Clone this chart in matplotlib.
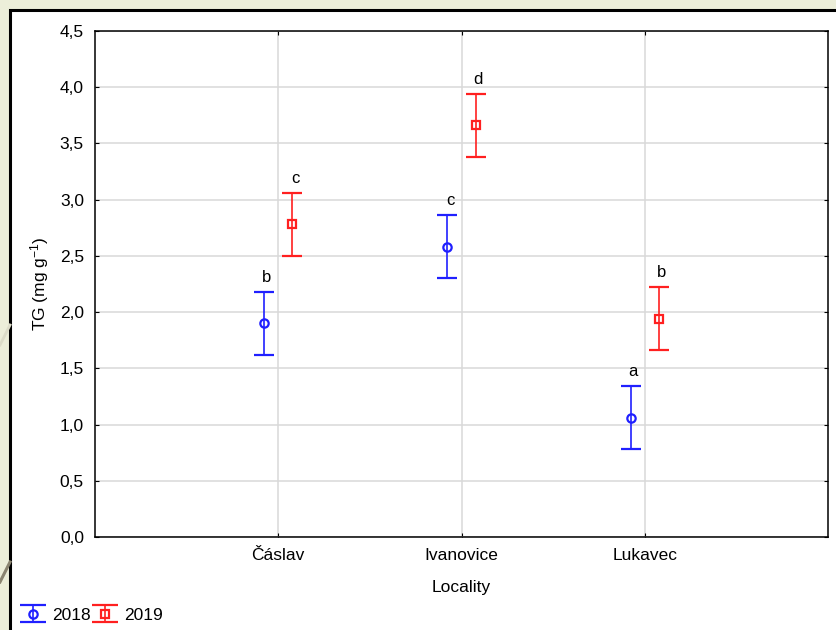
import matplotlib as mpl
mpl.use('agg')

import matplotlib.pyplot as plt
from matplotlib.patches import Rectangle
from matplotlib.lines import Line2D
from matplotlib.legend_handler import HandlerErrorbar
import numpy as np

# data (mean +- error)
localities = ['Čáslav', 'Ivanovice', 'Lukavec']
years = ['2018', '2019']
tg_2018 = [1.90, 2.58, 1.06]
tg_2019 = [2.78, 3.66, 1.94]
err_2018 = [0.28, 0.28, 0.28]
err_2019 = [0.28, 0.28, 0.28]
letters_2018 = ['b', 'c', 'a']
letters_2019 = ['c', 'd', 'b']
y_ticks = [0.0, 0.5, 1.0, 1.5, 2.0, 2.5, 3.0, 3.5, 4.0, 4.5]


def set_style():
    plt.rc('font', family=['Liberation Sans', 'DejaVu Sans'])
    mpl.rcParams['mathtext.fontset'] = 'custom'
    mpl.rcParams['mathtext.rm'] = 'Liberation Sans'
    mpl.rcParams['mathtext.it'] = 'Liberation Sans'
    mpl.rcParams['font.size'] = 12.5
    mpl.rcParams['xtick.direction'] = 'in'
    mpl.rcParams['ytick.direction'] = 'in'
    mpl.rcParams['xtick.top'] = True
    mpl.rcParams['ytick.right'] = True
    mpl.rcParams['xtick.major.size'] = 3
    mpl.rcParams['ytick.major.size'] = 3
    mpl.rcParams['axes.linewidth'] = 1.1


class WideCaps(HandlerErrorbar):
    # legend caps are drawn wider than in the plot
    def create_artists(self, *args, **kwargs):
        arts = super().create_artists(*args, **kwargs)
        for a in arts:
            if isinstance(a, Line2D) and a.get_marker() == '_':
                a.set_markersize(19)
        return arts


set_style()
fig = plt.figure(figsize=(8.36, 6.3), dpi=100, facecolor='#eceed9')

# slide decoration + white panel with black border
fig.add_artist(Line2D([0.0, 0.012], [1 - 582 / 630, 1 - 562 / 630],
                      transform=fig.transFigure, color='#8a8470', lw=2.2))
fig.add_artist(Line2D([0.0, 0.012], [1 - 345 / 630, 1 - 325 / 630],
                      transform=fig.transFigure, color='#dcdcc8', lw=2.0))
fig.add_artist(Rectangle((10 / 836, -0.05), 1.1, 1.05 - 10 / 630,
                         transform=fig.transFigure, facecolor='white',
                         edgecolor='black', lw=2.2))

ax = fig.add_axes([95 / 836, 1 - 537 / 630, 733 / 836, 506 / 630])
ax.set_zorder(2)

x = np.arange(1, len(localities) + 1)
off = 0.077

eb1 = ax.errorbar(x - off, tg_2018, yerr=err_2018, fmt='o', color='#2020ff',
                  mfc='none', mec='#2020ff', ms=6, mew=1.6, capsize=7,
                  elinewidth=1.2, capthick=1.2, label=years[0], zorder=3)
eb2 = ax.errorbar(x + off, tg_2019, yerr=err_2019, fmt='s', color='#ff2020',
                  mfc='none', mec='#ff2020', ms=5.5, mew=1.6, capsize=7,
                  elinewidth=1.2, capthick=1.2, label=years[1], zorder=3)

# significance letters above each error bar
for xi, m, e, t in zip(x - off, tg_2018, err_2018, letters_2018):
    ax.annotate(t, (xi, m + e), xytext=(2, 5), textcoords='offset points',
                ha='center', va='bottom', fontsize=12)
for xi, m, e, t in zip(x + off, tg_2019, err_2019, letters_2019):
    ax.annotate(t, (xi, m + e), xytext=(2, 5), textcoords='offset points',
                ha='center', va='bottom', fontsize=12)

ax.set_xlim(0, 4)
ax.set_ylim(0, 4.5)
ax.set_xticks(x)
ax.set_xticklabels(localities)
ax.set_yticks(y_ticks)
ax.set_yticklabels([f'{v:.1f}'.replace('.', ',') for v in y_ticks])
ax.tick_params(axis='x', pad=8)
ax.tick_params(axis='y', pad=8)
ax.grid(True, color='#d9d9d9', lw=1.1)
ax.set_axisbelow(True)

ax.set_xlabel('Locality', labelpad=12)
ax.set_ylabel(r'TG (mg g$^{-1}$)', labelpad=6)

fig.legend(handles=[eb1, eb2], loc='center left',
           bbox_to_anchor=(20 / 836, 1 - 615 / 630),
           ncol=2, frameon=False, handlelength=1.55, handletextpad=0.3,
           columnspacing=0.05, borderpad=0, borderaxespad=0,
           handler_map={type(eb1): WideCaps()})

fig.savefig('out.png', dpi=100, facecolor=fig.get_facecolor())
